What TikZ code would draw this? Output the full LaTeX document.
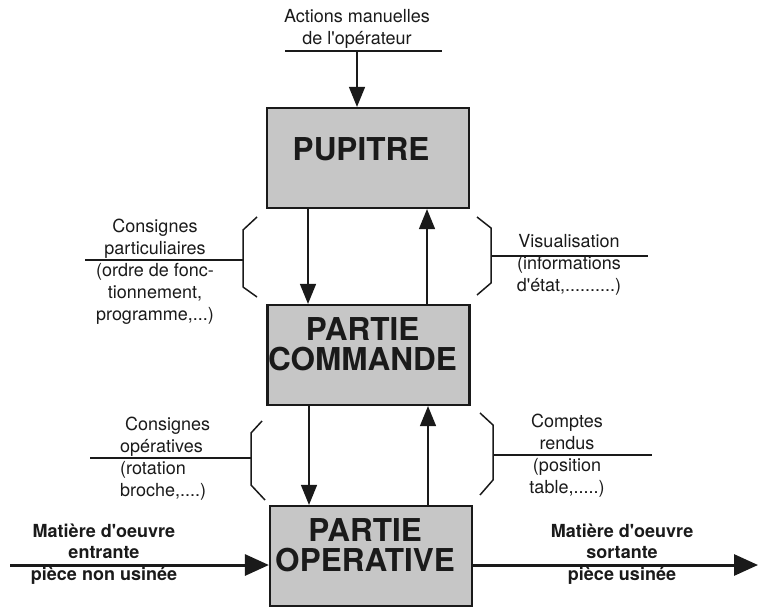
\documentclass[tikz,border=0pt]{standalone}
\usepackage{fontspec}
\setmainfont{TeX Gyre Heros}
\usetikzlibrary{arrows.meta, positioning}
\definecolor{mbox}{HTML}{C6C6C6}
\definecolor{mink}{HTML}{1A1A1A}
\tikzset{
  blocbox/.style={draw=mink, line width=2.2pt, fill=mbox, minimum width=202pt,
                  minimum height=100pt, inner sep=0pt},
  bloctxt/.style={align=center, inner sep=0pt, text=mink,
                  font=\fontsize{31.5}{30}\selectfont\bfseries},
  lbl/.style={align=center, inner sep=0pt, text=mink, font=\fontsize{18}{22}\selectfont},
  flowlbl/.style={align=center, inner sep=0pt, text=mink,
                  font=\fontsize{18}{21.5}\selectfont\bfseries},
  arr/.style={-{Triangle[length=20pt,width=16pt]}, line width=1.5pt, mink},
  flowarr/.style={-{Triangle[length=24pt,width=21pt]}, line width=3pt, mink},
  brace/.style={line width=1.5pt, mink, line join=round},
  tie/.style={line width=1.3pt, mink},
}
\newcommand{\apos}{\textquotesingle}
\begin{document}
\begin{tikzpicture}[x=1pt, y=-1pt]
  \useasboundingbox (0,0) rectangle (759,607);

  %% -- Blocks --
  \node[blocbox] (pupitre) at (368,158) {};
  \node[blocbox] (pc) at (368.5,355) {};
  \node[blocbox] (po) at (371,556) {};
  \node[bloctxt] (pupitretxt) at ([shift={(-7,-9)}]pupitre.center) {PUPITRE};
  \node[bloctxt] (pctxt) at ([shift={(-6,-11)}]pc.center) {PARTIE\\COMMANDE};
  \node[bloctxt] (potxt) at ([shift={(-6,-11)}]po.center) {PARTIE\\OPERATIVE};

  %% -- Operator input --
  \node[lbl] (actions) at (357,29) {Actions manuelles\\de l\apos opérateur};
  \draw[tie] (285,51) -- (442,51);
  \coordinate (actin) at (357,51);
  \draw[arr] (actin) -- (actin |- pupitre.north);

  %% -- Pupitre <-> Partie commande --
  \draw[arr] ([xshift=-60pt]pupitre.south) -- ([xshift=-60.5pt]pc.north);
  \draw[arr] ([xshift=58.5pt]pc.north) -- ([xshift=59pt]pupitre.south);

  % left brace: consignes particuliaires
  \draw[brace] (257,217) -- (243,230) -- (243,287) -- (257,297);
  \draw[tie] (85,260) -- (243,260);
  \node[lbl] (consprt) at (155,272)
    {Consignes\\particuliaires\\(ordre de fonc-\\tionnement,\\programme,...)};

  % right brace: visualisation
  \draw[brace] (477,217) -- (491,228) -- (491,283) -- (477,295);
  \draw[tie] (491,256) -- (648,256);
  \node[lbl] (visu) at (569,265) {Visualisation\\(informations\\d\apos état,..........)};

  %% -- Partie commande <-> Partie operative --
  \draw[arr] ([xshift=-59.5pt]pc.south) -- ([xshift=-62pt]po.north);
  \draw[arr] ([xshift=57pt]po.north) -- ([xshift=59.5pt]pc.south);

  % left brace: consignes operatives
  \draw[brace] (262,421) -- (251,433) -- (251,485) -- (265,500);
  \draw[tie] (90,458) -- (251,458);
  \node[lbl, align=left, anchor=west] (consop) at (120,459)
    {\hspace{5pt}Consignes\\opératives\\(rotation\\broche,....)};

  % right brace: comptes rendus
  \draw[brace] (480,413) -- (493,425) -- (493,480) -- (480,495);
  \draw[tie] (493,455) -- (652,455);
  \node[lbl] (comptes) at (567,456) {Comptes\\rendus\\(position\\table,.....)};

  %% -- Material flow --
  \coordinate (inflow) at (10,565);
  \coordinate (outflow) at (758,565);
  \draw[flowarr] (inflow) -- (inflow -| po.west);
  \draw[flowarr] (outflow -| po.east) -- (outflow);
  \node[flowlbl] (matin) at (104,554) {Matière d\apos oeuvre\\entrante\\pièce non usinée};
  \node[flowlbl] (matout) at (622,554) {Matière d\apos oeuvre\\sortante\\pièce usinée};
\end{tikzpicture}
\end{document}
